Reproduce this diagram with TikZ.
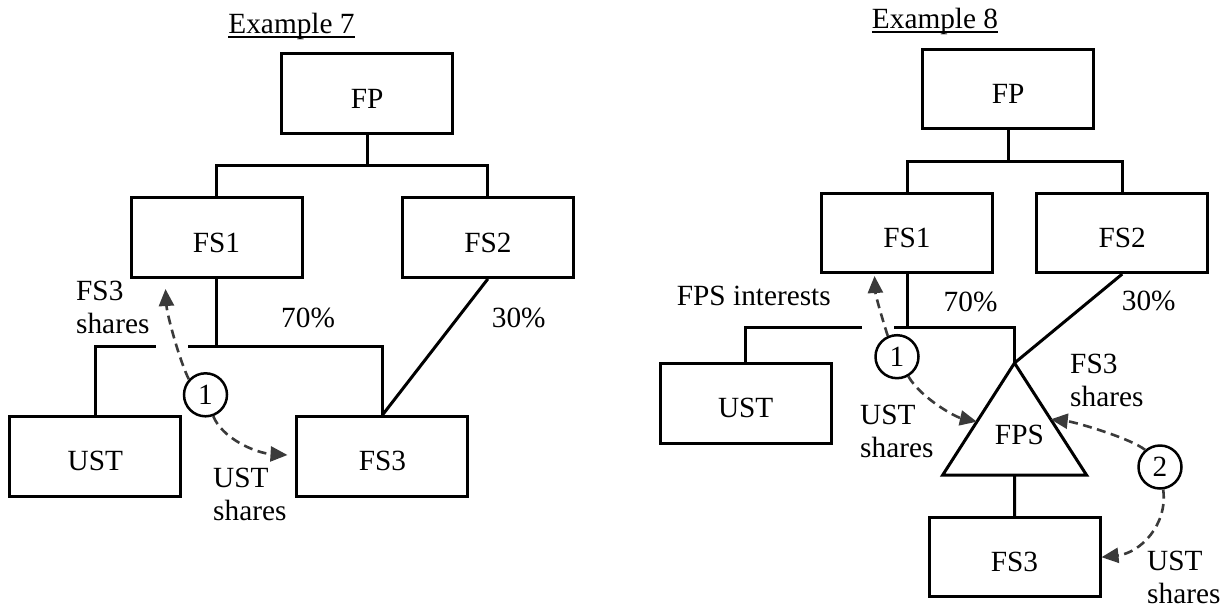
\documentclass[tikz,border=0pt]{standalone}
\usepackage{fontspec}
\setmainfont{Liberation Serif}
\usetikzlibrary{arrows.meta,calc}
\definecolor{arrowgray}{HTML}{3A3A3A}
\begin{document}
\begin{tikzpicture}[x=1pt,y=-1pt,
  every node/.style={font=\fontsize{29.3}{33}\selectfont, inner sep=0pt},
  entity/.style={draw, line width=3pt, minimum width=171pt, minimum height=79.5pt,
                 text height=28.8pt, text depth=0pt},
  link/.style={line width=3pt},
  flow/.style={draw=arrowgray, line width=2.6pt, dash pattern=on 9pt off 5.5pt,
               -{Triangle[length=17pt,width=15pt,fill=arrowgray]}},
  stepno/.style={draw, circle, line width=2.5pt, minimum size=43pt},
  caption/.style={anchor=base},
  note/.style={anchor=base west, align=left},
  rule/.style={line width=2pt},
]
\path[use as bounding box] (0,0) rectangle (1223,608);

% ---------------- Example 7 ----------------
\node[caption] (t7) at (291.5,33) {Example 7};
\draw[rule] ([yshift=-4pt]t7.base west) -- ([yshift=-4pt]t7.base east);

\node[entity] (fpA)  at (367.2,93.6)  {FP};
\node[entity] (fs1A) at (216.5,237.6) {FS1};
\node[entity] (fs2A) at (487.9,237.6) {FS2};
\node[entity] (ustA) at (95.4,456.3)  {UST};
\node[entity] (fs3A) at (382.4,456.3) {FS3};
\node[stepno] (n1A)  at (205.5,394.8) {1};

\coordinate (jA)  at (367.2,165.8);
\coordinate (kA)  at (216.5,346.7);
\coordinate (gA1) at (156,346.7);
\coordinate (gA2) at (188.4,346.7);
\coordinate (tA1) at (165.5,289);
\coordinate (tA2) at (287.5,455);

\draw[link] (fpA.south) -- (jA);
\draw[link] (fs1A.north) |- (jA) -| (fs2A.north);
\draw[link] (fs1A.south) -- (kA);
\draw[link] (ustA.north) |- (gA1);
\draw[link] (gA2) -| (fs3A.north);
\draw[link] (fs2A.south) -- (fs3A.north);

\draw[flow] (n1A.137) .. controls (180,362) and (167,315) .. (tA1);
\draw[flow] (n1A.-70) .. controls (222,438) and (255,453) .. (tA2);

% two-line labels are placed at the baseline of their last line
\node[note] (lA1) at (76,333)    {FS3\\shares};
\node[note] (lA2) at (281,327)   {70\%};
\node[note] (lA3) at (491.7,327) {30\%};
\node[note] (lA4) at (213,520.2) {UST\\shares};

% ---------------- Example 8 ----------------
\node[caption] (t8) at (935,28) {Example 8};
\draw[rule] ([yshift=-4pt]t8.base west) -- ([yshift=-4pt]t8.base east);

\node[entity] (fpB)  at (1008.1,88.9)  {FP};
\node[entity] (fs1B) at (907,232.8)    {FS1};
\node[entity] (fs2B) at (1122.2,232.8) {FS2};
\node[entity] (ustB) at (745.7,403.4)  {UST};
\node[entity] (fs3B) at (1014.5,557.2) {FS3};

% partnership triangle
\coordinate (apex) at (1014.5,363);
\coordinate (bl)   at (942.7,475);
\coordinate (br)   at (1086.5,475);
\draw[link] (apex) -- (bl) -- (br) -- cycle;
\node[anchor=base] (fps) at (1019.4,444.3) {FPS};
\coordinate (tb) at ($(bl)!0.5!(br)$);

\node[stepno] (n1B) at (897,356.7) {1};
\node[stepno] (n2B) at (1160,467)  {2};

\coordinate (jB)  at (1008.1,161);
\coordinate (kB)  at (907,327.7);
\coordinate (gB1) at (861.7,327.7);
\coordinate (gB2) at (894,327.7);
\coordinate (tB1) at (874.5,276);
\coordinate (tB2) at ($(apex)!0.524!(bl)$);
\coordinate (tB3) at ($(apex)!0.503!(br)$);

\draw[link] (fpB.south) -- (jB);
\draw[link] (fs1B.north) |- (jB) -| (fs2B.north);
\draw[link] (fs1B.south) -- (kB);
\draw[link] (ustB.north) |- (gB1);
\draw[link] (gB2) -| (apex);
\draw[link] (fs2B.south) -- (apex);
\draw[link] (tb) -- (fs3B.north);

\draw[flow] (n1B.114) .. controls (882,318) and (875.5,295) .. (tB1);
\draw[flow] (n1B.-60) .. controls (920.7,397.7) and (954.7,416.7) .. (tB2);
\draw[flow] (n2B.131) .. controls (1130,438) and (1075,422) .. (tB3);
\draw[flow] (n2B.-82) .. controls (1168,525) and (1140,553) .. (fs3B.east);

\node[note] (lB1) at (676.7,305)   {FPS interests};
\node[note] (lB2) at (943.5,311.7) {70\%};
\node[note] (lB3) at (1121.7,310)  {30\%};
\node[note] (lB4) at (860,457.3)   {UST\\shares};
\node[note] (lB5) at (1070,406.7)  {FS3\\shares};
\node[note] (lB6) at (1147,603)    {UST\\shares};
\end{tikzpicture}
\end{document}
